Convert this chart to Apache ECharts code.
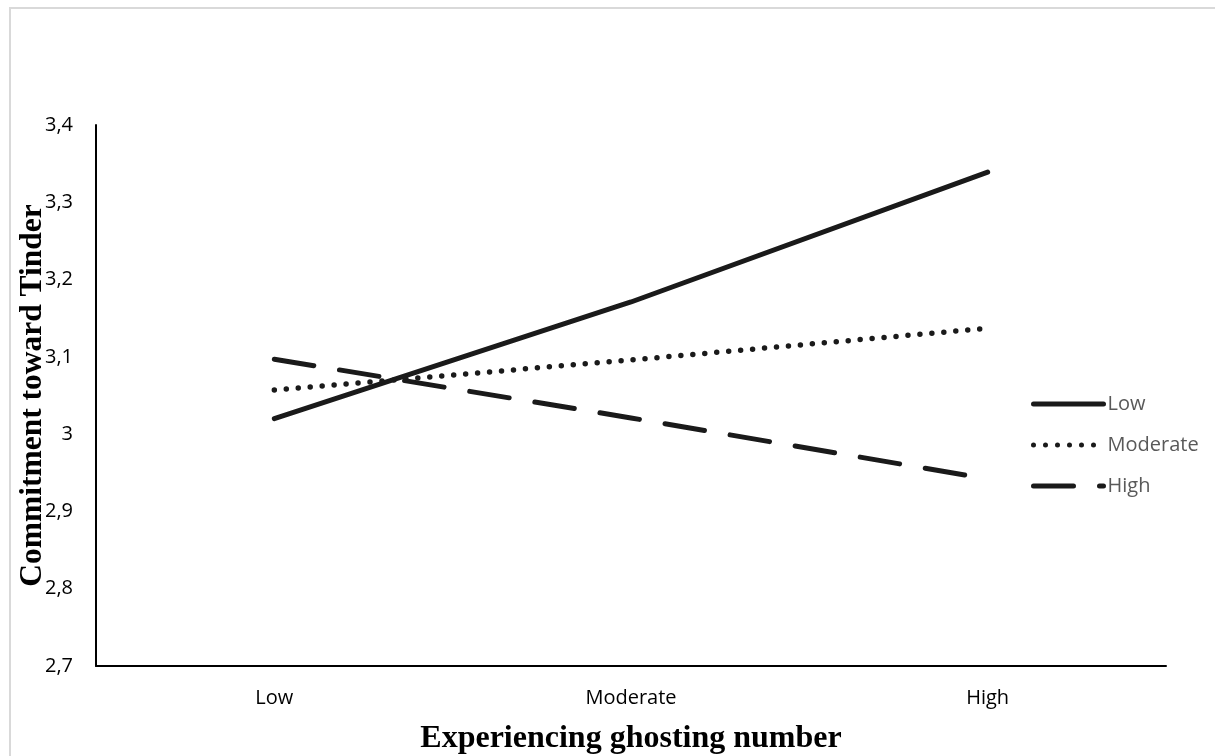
<!DOCTYPE html>
<html>
<head>
<meta charset="utf-8">
<script src="https://cdn.jsdelivr.net/npm/echarts@6/dist/echarts.min.js"></script>
<style>
html,body{margin:0;padding:0;background:#fff;}
#chart{width:1215px;height:756px;}
</style>
</head>
<body>
<div id="chart"></div>
<script>
var categories = ['Low', 'Moderate', 'High'];
var seriesNames = ['Low', 'Moderate', 'High'];
var lowValues = [3.02, 3.171, 3.339];
var moderateValues = [3.057, 3.096, 3.137];
var highValues = [3.097, 3.021, 2.942];
var yMin = 2.7, yMax = 3.4, yStep = 0.1;

var chart = echarts.init(document.getElementById('chart'));
var tickFont = '"Open Sans", Lato, sans-serif';
var titleFont = '"Liberation Serif", "Times New Roman", serif';

chart.setOption({
  animation: false,
  backgroundColor: '#fff',
  graphic: [{
    type: 'rect',
    shape: {x: 10, y: 8, width: 1220, height: 760},
    style: {fill: 'none', stroke: '#d9d9d9', lineWidth: 2},
    silent: true, z: -1
  }],
  grid: {left: 96, right: 49, top: 125, bottom: 90, containLabel: false, outerBoundsMode: 'none'},
  legend: {
    orient: 'vertical',
    left: 1026,
    top: 389,
    itemWidth: 70,
    itemHeight: 14,
    itemGap: 21,
    itemStyle: {opacity: 0},
    lineStyle: {width: 5, cap: 'round'},
    textStyle: {fontFamily: tickFont, fontSize: 20, color: '#595959', padding: [0, 0, 0, -1]},
    data: seriesNames
  },
  xAxis: {
    type: 'category',
    data: categories,
    boundaryGap: true,
    axisLine: {lineStyle: {color: '#000', width: 2}},
    axisTick: {show: false},
    axisLabel: {fontFamily: tickFont, fontSize: 20, color: '#000', margin: 22},
    name: 'Experiencing ghosting number',
    nameLocation: 'middle',
    nameMoveOverlap: false,
    nameGap: 57,
    nameTextStyle: {fontFamily: titleFont, fontWeight: 'bold', fontSize: 32, color: '#000'}
  },
  yAxis: {
    type: 'value',
    min: yMin, max: yMax, interval: yStep,
    splitLine: {show: false},
    axisLine: {show: true, lineStyle: {color: '#000', width: 2}},
    axisTick: {show: false},
    axisLabel: {
      fontFamily: tickFont, fontSize: 20, color: '#000', margin: 23,
      formatter: function (v) { return String(Math.round(v * 10) / 10).replace('.', ','); }
    },
    name: 'Commitment toward Tinder',
    nameLocation: 'middle',
    nameMoveOverlap: false,
    nameGap: 47,
    nameTextStyle: {fontFamily: titleFont, fontWeight: 'bold', fontSize: 31.5, color: '#000'}
  },
  series: [
    {name: seriesNames[0], type: 'line', data: lowValues, symbol: 'none', color: '#1a1a1a',
     lineStyle: {color: '#1a1a1a', width: 5, cap: 'round', type: 'solid'}},
    {name: seriesNames[1], type: 'line', data: moderateValues, symbol: 'none', color: '#1a1a1a',
     lineStyle: {color: '#1a1a1a', width: 5.5, cap: 'round', type: [0, 12]}},
    {name: seriesNames[2], type: 'line', data: highValues, symbol: 'none', color: '#1a1a1a',
     lineStyle: {color: '#1a1a1a', width: 5, cap: 'round', type: [40, 26]}}
  ]
});
</script>
</body>
</html>
